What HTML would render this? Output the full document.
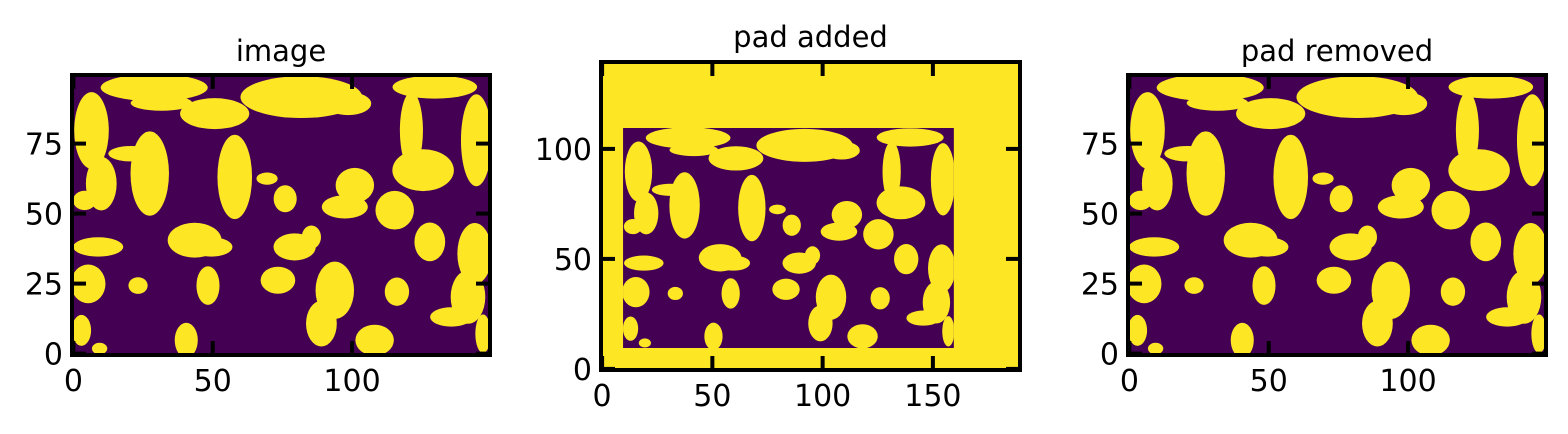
<!DOCTYPE html>
<html><head><meta charset="utf-8">
<style>
html,body{margin:0;padding:0;background:#fff;}
svg{display:block;font-family:"DejaVu Sans","Liberation Sans",sans-serif;}
</style></head>
<body>
<svg id="fig" width="1568" height="434" viewBox="0 0 1568 434" xmlns="http://www.w3.org/2000/svg"></svg>
<script>
// blob data in image data units: [x, y, rx, ry]
const blobX = [29,50.7,31.6,81.8,98.6,129.7,121.3,125.5,144.6,6.5,10,4,27.4,20.8,57.9,69.5,76,101,115.3,97.4,43.5,49.5,8.9,79.4,85.4,127.9,144,141.6,135.6,5.3,23.2,48.3,73.4,93.8,89,116.1,2.9,40.5,108.1,9.4,147];
const blobY = [95,85.7,89.5,91.6,89.3,95.2,79.7,65.5,76.2,79.7,60.7,54.7,64.3,71.4,63.1,62.5,55.3,60.1,51.2,52.4,40.5,38.1,38.1,38.1,41.6,39.9,35.7,20.2,13.1,24.9,24.3,24.3,26.2,22.6,10.7,22.1,8.3,4.8,4.8,1.8,7.1];
const blobRX = [16.7,10.8,9.6,19,7.2,13.2,3.6,9.6,4.8,5.4,4.8,3.6,6,7.2,5.4,3.3,3.6,6,6,7.2,8.4,6.6,7.8,6.6,3,4.8,5.4,5.4,6.6,5.4,3,3.6,5.4,6,4.8,3.8,3,3.6,6,2.4,2.4];
const blobRY = [4.2,4.8,2.4,6.5,3.6,3.6,11.9,6.5,14.3,11.9,8.3,3,13.1,2.4,13.1,1.9,4.2,5.4,6,3.6,5.4,3,3,4.2,3.6,6,9.5,8.3,3,6,2.6,6,4.2,8.9,7.1,4.4,4.8,5.4,4.8,1.8,6];
const img1XTicks = [0,50,100], img1YTicks = [0,25,50,75];
const padXTicks = [0,50,100,150], padYTicks = [0,50,100];
const imgW = 150, imgH = 100, pad = 10, padW = 190, padH = 140;
const GROW = 1.15;

const NS = "http://www.w3.org/2000/svg";
const svg = document.getElementById('fig');
const PURPLE = "#440154", YELLOW = "#fde725";
function mk(tag, attrs, parent){const e=document.createElementNS(NS,tag);for(const k in attrs)e.setAttribute(k,attrs[k]);(parent||svg).appendChild(e);return e;}

function panel(id, name, L, T, R, B, xmax, ymax, xt, yt, title, titleY, padded){
  const g = mk('g',{});
  
  
  const sx = v => L + (v + 0.5) / xmax * (R - L);
  const sy = v => B - (v + 0.5) / ymax * (B - T);
  const sw = v => v / xmax * (R - L), sh = v => v / ymax * (B - T);
  const clip = mk('clipPath',{id:'c'+id}, g);
  mk('rect',{x:L,y:T,width:R-L,height:B-T}, clip);
  const img = mk('g',{'clip-path':'url(#c'+id+')'}, g);
  
  
  const off = padded ? pad : 0;
  if (padded) mk('rect',{x:L,y:T,width:R-L,height:B-T,fill:YELLOW}, img);
  mk('rect',{x:sx(off-0.5),y:sy(off+imgH-0.5),width:sw(imgW),height:sh(imgH),fill:PURPLE}, img);
  const ic = mk('clipPath',{id:'ic'+id}, g);
  mk('rect',{x:sx(off-0.5),y:sy(off+imgH-0.5),width:sw(imgW),height:sh(imgH)}, ic);
  const bl = mk('g',{'clip-path':'url(#ic'+id+')'}, img);
  for (let i=0;i<blobX.length;i++){
    const e = mk('ellipse',{cx:sx(blobX[i]+off),cy:sy(blobY[i]+off),rx:sw(blobRX[i]*GROW),ry:sh(blobRY[i]*GROW),fill:YELLOW}, bl);
    
    
  }
  mk('rect',{x:L,y:T,width:R-L,height:B-T,fill:'none',stroke:'#000','stroke-width':4}, g);
  xt.forEach(v=>{
    const x = sx(v);
    mk('line',{x1:x,y1:B,x2:x,y2:B-14,stroke:'#000','stroke-width':4}, g);
    mk('line',{x1:x,y1:T,x2:x,y2:T+14,stroke:'#000','stroke-width':4}, g);
    const t = mk('text',{x:x,y:B+36,'text-anchor':'middle','font-size':30,fill:'#000'}, g);
    
    
    t.textContent = v;
  });
  yt.forEach(v=>{
    const y = sy(v);
    mk('line',{x1:L,y1:y,x2:L+14,y2:y,stroke:'#000','stroke-width':4}, g);
    mk('line',{x1:R,y1:y,x2:R-14,y2:y,stroke:'#000','stroke-width':4}, g);
    const t = mk('text',{x:L-9,y:y+11,'text-anchor':'end','font-size':30,fill:'#000'}, g);
    
    
    t.textContent = v;
  });
  const tt = mk('text',{x:(L+R)/2,y:titleY,'text-anchor':'middle','font-size':29,fill:'#000'}, g);
  
  
  tt.textContent = title;
}
panel(1,'image-panel',72,75,490,355,imgW,imgH,img1XTicks,img1YTicks,'image',61,false);
panel(2,'pad-added-panel',601,62,1020,370,padW,padH,padXTicks,padYTicks,'pad added',47,true);
panel(3,'pad-removed-panel',1128,75,1546,355,imgW,imgH,img1XTicks,img1YTicks,'pad removed',61,false);
</script>
</body></html>
